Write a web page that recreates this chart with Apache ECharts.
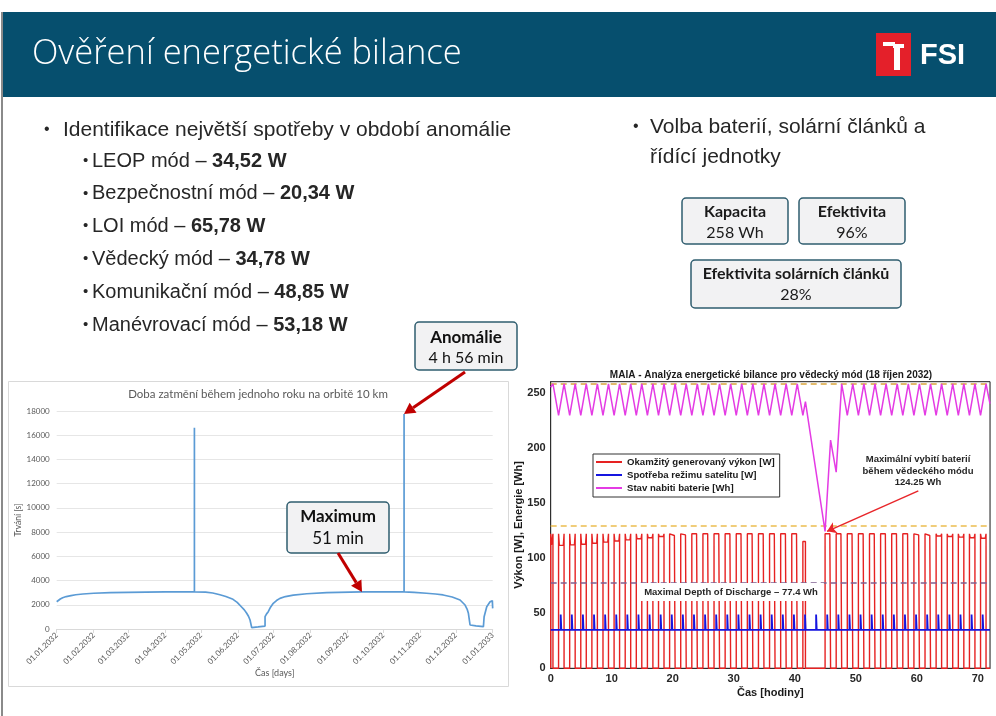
<!DOCTYPE html>
<html>
<head>
<meta charset="utf-8">
<script src="https://cdn.jsdelivr.net/npm/echarts@6/dist/echarts.min.js"></script>
<style>
  html, body { margin: 0; padding: 0; background: #fff; }
  #main { width: 996px; height: 716px; }
</style>
</head>
<body>
<div id="main"></div>
<script>
// --- slide texts ---
const modeNames = ['LEOP mód', 'Bezpečnostní mód', 'LOI mód', 'Vědecký mód', 'Komunikační mód', 'Manévrovací mód']
const modePowers = ['34,52 W', '20,34 W', '65,78 W', '34,78 W', '48,85 W', '53,18 W']
const boxTitles = ['Kapacita', 'Efektivita', 'Efektivita solárních článků']
const boxValues = ['258 Wh', '96%', '28%']

// --- left chart: eclipse duration over 2032 (day of year, seconds) ---
const monthTicks = [0, 31, 60, 91, 121, 152, 182, 213, 244, 274, 305, 335, 366]
const monthLabels = ['01.01.2032', '01.02.2032', '01.03.2032', '01.04.2032', '01.05.2032', '01.06.2032',
  '01.07.2032', '01.08.2032', '01.09.2032', '01.10.2032', '01.11.2032', '01.12.2032', '01.01.2033']
const eclipseDay = [0, 1, 3, 5, 8, 12, 16, 22, 31, 45, 60, 75, 91, 105, 115.6, 115.6, 115.6,
  125, 131, 137, 142, 148, 151.5, 155, 157.5, 159.5, 161, 162.3, 163.7, 169, 174.9, 174.9,
  176.2, 177.6, 179.5, 181.8, 184.5, 187.4, 192, 198.6, 210, 226.6, 256, 280, 291.6, 291.6, 291.6,
  300, 310.4, 318, 324.4, 332, 338.6, 342.8, 344.5, 345.6, 347, 352, 358.2, 358.8, 361, 363.8, 365.7, 366]
const eclipseSec = [2250, 2330, 2480, 2580, 2680, 2760, 2830, 2890, 2950, 3000, 3030, 3050, 3060, 3060, 3060, 16620, 3060,
  3040, 2970, 2830, 2680, 2450, 2200, 1840, 1580, 1300, 1050, 740, 110, 170, 245, 1015,
  1250, 1430, 1800, 2120, 2350, 2530, 2680, 2800, 2910, 3000, 3060, 3060, 3060, 17760, 3060,
  3030, 2950, 2890, 2810, 2640, 2395, 1980, 1650, 1300, 330, 260, 190, 1015, 1840, 2250, 2340, 1700]

// --- right chart: MAIA energy balance (hours) ---
// sunlit intervals: generated power rises at sunRise, drops to 0 at sunSet
const sunRise = [0, 1.29, 3.11, 4.93, 6.75, 8.57, 10.39, 12.21, 14.03, 15.85, 17.67, 19.49, 21.31, 23.13, 24.95,
  26.77, 28.59, 30.41, 32.23, 34.05, 35.87, 37.69, 39.51, 41.33, 44.97, 46.79, 48.61, 50.43, 52.25, 54.07,
  55.89, 57.71, 59.53, 61.35, 63.17, 64.99, 66.81, 68.63, 70.45]
const sunSet = [0.37, 2.19, 4.01, 5.83, 7.65, 9.47, 11.29, 13.11, 14.93, 16.75, 18.57, 20.39, 22.21, 24.03, 25.85,
  27.67, 29.49, 31.31, 33.13, 34.95, 36.77, 38.59, 40.41, 41.75, 45.87, 47.69, 49.51, 51.33, 53.15, 54.97,
  56.79, 58.61, 60.43, 62.25, 64.07, 65.89, 67.71, 69.53, 71.35]
const sunPeak = [122, 122, 122, 122, 122, 122, 122, 122, 122, 122, 122, 122, 122, 122, 122,
  122, 122, 122, 122, 122, 122, 122, 122, 115, 122, 122, 122, 122, 122, 122,
  122, 122, 122, 122, 122, 122, 122, 122, 122]
const sunMid = [112, 111.5, 112, 112.5, 113.5, 114.5, 115.5, 116.5, 117.5, 118.5, 119.5, 120.5, 121, 122, 122,
  122, 122, 122, 122, 122, 122, 122, 122, 115, 122, 122, 122, 122, 122, 122,
  122, 122, 121, 120.5, 120, 119.5, 119, 118.5, 118]
// satellite consumption: base load with short communication peaks
const baseLoad = 34.78
const commsLoad = 48.85
const commsLen = 0.1
const commsT = [1.64, 3.46, 5.28, 7.10, 8.92, 10.74, 12.56, 14.38, 16.20, 18.02, 19.84, 21.66, 23.48,
  25.30, 27.12, 28.94, 30.76, 32.58, 34.40, 36.22, 38.04, 39.86, 41.68, 43.50, 45.32, 47.14,
  48.96, 50.78, 52.60, 54.42, 56.24, 58.06, 59.88, 61.70, 63.52, 65.34, 67.16, 68.98, 70.80]
// battery state of charge
const batT = [0, 0.37, 1.29, 2.19, 3.11, 4.01, 4.93, 5.83, 6.75, 7.65, 8.57, 9.47, 10.39, 11.29, 12.21, 13.11,
  14.03, 14.93, 15.85, 16.75, 17.67, 18.57, 19.49, 20.39, 21.31, 22.21, 23.13, 24.03, 24.95, 25.85,
  26.77, 27.67, 28.59, 29.49, 30.41, 31.31, 32.23, 33.13, 34.05, 34.95, 35.87, 36.77, 37.69, 38.59,
  39.51, 40.41, 41.33, 41.75, 44.97, 45.87, 46.79, 47.69, 48.61, 49.51, 50.43, 51.33, 52.25, 53.15,
  54.07, 54.97, 55.89, 56.79, 57.71, 58.61, 59.53, 60.43, 61.35, 62.25, 63.17, 64.07, 64.99, 65.89,
  66.81, 67.71, 68.63, 69.53, 70.45, 71.35, 72]
const batV = [255, 258, 229.5, 258, 229.5, 258, 229.5, 258, 229.5, 258, 229.5, 258, 229.5, 258, 229.5, 258,
  229.5, 258, 229.5, 258, 229.5, 258, 229.5, 258, 229.5, 258, 229.5, 258, 229.5, 258,
  229.5, 258, 229.5, 258, 229.5, 258, 229.5, 258, 229.5, 258, 229.5, 258, 229.5, 258,
  229.5, 258, 229.5, 242, 124.25, 207, 178, 258, 229.5, 258, 229.5, 258, 229.5, 258,
  229.5, 258, 229.5, 258, 229.5, 258, 229.5, 258, 229.5, 258, 229.5, 258, 229.5, 258,
  229.5, 258, 229.5, 258, 229.5, 258, 240]
const capacity = 258
const halfCapacity = 129
const depthOfDischarge = 77.4
const minCharge = [45.3, 124.25]
const minChargeLabel = [60.25, 160.9]

const chart = echarts.init(document.getElementById('main'))

const SANS = '"Liberation Sans", Arial, sans-serif'
const CAL = 'Lato, "Open Sans", sans-serif'

function txt(x, y, str, size, o) {
  o = o || {}
  return {
    type: 'text', x: x, y: y, z: 100, rotation: o.rot || 0,
    style: {
      text: str, fontSize: size, fontFamily: o.family || SANS, fontWeight: o.weight || 'normal',
      fill: o.color || '#262626', align: o.align || 'left', verticalAlign: 'middle',
      textAlign: o.align || 'left', textVerticalAlign: 'middle', lineHeight: o.lh,
      backgroundColor: o.bg, padding: o.pad, rich: o.rich
    }
  }
}

function box(x, y, w, h) {
  return { type: 'rect', z: 90, shape: { x: x, y: y, width: w, height: h, r: 4 },
    style: { fill: '#f2f2f3', stroke: '#2f5d6f', lineWidth: 1.5 } }
}

function arrow(x1, y1, x2, y2, color, w, head) {
  const a = Math.atan2(y2 - y1, x2 - x1)
  const bx = x2 - head * Math.cos(a), by = y2 - head * Math.sin(a)
  const hw = head * 0.55
  return [
    { type: 'line', z: 100, shape: { x1: x1, y1: y1, x2: bx, y2: by }, style: { stroke: color, lineWidth: w } },
    { type: 'polygon', z: 100, shape: { points: [[x2, y2], [bx + hw * Math.sin(a), by - hw * Math.cos(a)], [bx - hw * Math.sin(a), by + hw * Math.cos(a)]] },
      style: { fill: color } }
  ]
}

// slide decoration
const graphics = [
  { type: 'rect', z: 1, shape: { x: 1, y: 12, width: 2, height: 704 }, style: { fill: '#8a8a8a' } },
  { type: 'rect', z: 1, shape: { x: 3, y: 12, width: 993, height: 85 }, style: { fill: '#064f6e' } },
  txt(32, 54, 'Ověření energetické bilance', 34.5, { family: '"Open Sans", sans-serif', weight: 300, color: '#ffffff' }),
  { type: 'rect', z: 5, shape: { x: 876, y: 33, width: 35, height: 43 }, style: { fill: '#e4202a' } },
  { type: 'rect', z: 6, shape: { x: 883, y: 42, width: 12, height: 4 }, style: { fill: '#ffffff' } },
  { type: 'rect', z: 6, shape: { x: 893, y: 44, width: 11, height: 4 }, style: { fill: '#ffffff' } },
  { type: 'rect', z: 6, shape: { x: 894, y: 44, width: 6, height: 26 }, style: { fill: '#ffffff' } },
  txt(920, 56, 'FSI', 29, { weight: 'bold', color: '#ffffff' }),

  txt(44, 130, '•', 16),
  txt(63, 130, 'Identifikace největší spotřeby v období anomálie', 21),
  txt(633, 127, '•', 16),
  txt(650, 127, 'Volba baterií, solární článků a', 21),
  txt(650, 157, 'řídící jednotky', 21)
]

const subY = [161, 193.5, 226, 259, 292, 325]
modeNames.forEach(function (n, i) {
  graphics.push(txt(83, subY[i], '•', 15))
  graphics.push(txt(92, subY[i], '{n|' + n + ' – }{b|' + modePowers[i] + '}', 20, {
    rich: {
      n: { fontSize: 20, fontFamily: SANS, fill: '#262626' },
      b: { fontSize: 20, fontFamily: SANS, fontWeight: 'bold', fill: '#262626' }
    }
  }))
})

// info boxes
const boxRects = [[682, 198, 106, 46], [799, 198, 106, 46], [691, 260, 210, 48]]
boxRects.forEach(function (r, i) {
  graphics.push(box(r[0], r[1], r[2], r[3]))
  graphics.push(txt(r[0] + r[2] / 2, r[1] + 13.5, boxTitles[i], 16, { family: CAL, weight: 'bold', align: 'center', color: '#1a1a1a' }))
  graphics.push(txt(r[0] + r[2] / 2, r[1] + 35, boxValues[i], 16, { family: CAL, align: 'center', color: '#1a1a1a' }))
})

// anomaly + maximum callouts
graphics.push(box(415, 322, 102, 48))
graphics.push(txt(466, 338, 'Anomálie', 17, { family: CAL, weight: 'bold', align: 'center', color: '#111' }))
graphics.push(txt(466, 358, '4 h 56 min', 16, { family: CAL, align: 'center', color: '#111' }))
graphics.push.apply(graphics, arrow(465, 372, 404, 414, '#c00000', 3, 11))
graphics.push(box(287, 502, 102, 51))
graphics.push(txt(338, 517, 'Maximum', 17, { family: CAL, weight: 'bold', align: 'center', color: '#111' }))
graphics.push(txt(338, 539, '51 min', 17, { family: CAL, align: 'center', color: '#111' }))
graphics.push.apply(graphics, arrow(338, 553, 362, 592, '#c00000', 3, 11))

// left chart frame + title
graphics.push({ type: 'rect', z: 2, shape: { x: 8.5, y: 381.5, width: 500, height: 305 }, style: { fill: 'none', stroke: '#d9d9d9', lineWidth: 1 } })
graphics.push(txt(258, 394, 'Doba zatmění během jednoho roku na orbitě 10 km', 11.5, { family: CAL, align: 'center', color: '#595959' }))

// right chart title + notes
graphics.push(txt(771, 375, 'MAIA - Analýza energetické bilance pro vědecký mód (18 říjen 2032)', 10, { weight: 'bold', align: 'center', color: '#1a1a1a' }))
graphics.push(txt(519, 525, 'Výkon [W], Energie [Wh]', 11, { weight: 'bold', align: 'center', color: '#1a1a1a', rot: Math.PI / 2 }))
graphics.push(txt(918, 471, 'Maximální vybití baterií\nběhem vědeckého módu\n124.25 Wh', 9.5, { weight: 'bold', align: 'center', color: '#262626', lh: 11.5 }))
graphics.push(txt(731, 592, 'Maximal Depth of Discharge – 77.4 Wh', 9.5, { weight: 'bold', align: 'center', color: '#262626', bg: '#ffffff', pad: [4, 6] }))

// build line data from the read values
const eclipseData = eclipseDay.map(function (d, i) { return [d, eclipseSec[i]] })
const powerData = []
sunRise.forEach(function (s, i) {
  const e = sunSet[i]
  powerData.push([s, 0], [s, sunPeak[i]], [s + 0.12, sunMid[i]], [e - 0.12, sunMid[i]], [e, sunPeak[i]], [e, 0])
})
powerData.push([72, 0])
const loadData = [[0, baseLoad]]
commsT.forEach(function (t) {
  loadData.push([t, baseLoad], [t, commsLoad], [t + commsLen, commsLoad], [t + commsLen, baseLoad])
})
loadData.push([72, baseLoad])
const batData = batT.map(function (t, i) { return [t, batV[i]] })

const bold11 = { fontSize: 11, fontWeight: 'bold', color: '#262626', fontFamily: SANS }

chart.setOption({
  animation: false,
  backgroundColor: '#ffffff',
  graphic: graphics,
  legend: {
    data: ['Okamžitý generovaný výkon [W]', 'Spotřeba režimu satelitu [W]', 'Stav nabiti baterie [Wh]'],
    orient: 'vertical', left: 593, top: 454, itemGap: 1, itemWidth: 26, itemHeight: 2, icon: 'rect',
    padding: [2, 5, 3, 3], borderColor: '#333', borderWidth: 1, backgroundColor: '#fff',
    textStyle: { fontSize: 9.6, fontWeight: 'bold', color: '#1a1a1a', fontFamily: SANS, lineHeight: 12 }
  },
  grid: [
    { left: 56.7, right: 503.3, top: 411, bottom: 87 },
    { left: 550.7, right: 6, top: 381.7, bottom: 47.7, show: true, borderColor: '#222', borderWidth: 1, backgroundColor: '#fff', z: 3 }
  ],
  xAxis: [
    {
      gridIndex: 0, type: 'value', min: 0, max: 366,
      name: 'Čas [days]', nameLocation: 'middle', nameGap: 40,
      nameTextStyle: { fontSize: 9, color: '#595959', fontFamily: CAL },
      axisLine: { lineStyle: { color: '#d9d9d9' } },
      axisTick: { show: true, customValues: monthTicks, length: 4, lineStyle: { color: '#d9d9d9' } },
      axisLabel: {
        customValues: monthTicks, rotate: 45, fontSize: 8, color: '#595959', fontFamily: CAL, margin: 5,
        formatter: function (v) { const i = monthTicks.indexOf(v); return i >= 0 ? monthLabels[i] : '' }
      },
      splitLine: { show: false }
    },
    {
      gridIndex: 1, type: 'value', min: 0, max: 72, interval: 10,
      name: 'Čas [hodiny]', nameLocation: 'middle', nameGap: 19,
      nameTextStyle: { fontSize: 11, fontWeight: 'bold', color: '#1a1a1a', fontFamily: SANS },
      axisLine: { lineStyle: { color: '#222' } },
      axisTick: { inside: true, length: 4, lineStyle: { color: '#222' } },
      axisLabel: Object.assign({ margin: 5, showMaxLabel: false }, bold11),
      splitLine: { show: true, lineStyle: { color: '#e2e2e2' } }
    }
  ],
  yAxis: [
    {
      gridIndex: 0, type: 'value', min: 0, max: 18000, interval: 2000,
      name: 'Trvání [s]', nameLocation: 'middle', nameGap: 32,
      nameTextStyle: { fontSize: 8.5, color: '#595959', fontFamily: CAL },
      axisLine: { show: false }, axisTick: { show: false },
      axisLabel: { fontSize: 8, color: '#595959', fontFamily: CAL, margin: 7, formatter: function (v) { return String(v) } },
      splitLine: { lineStyle: { color: '#e6e6e6' } }
    },
    {
      gridIndex: 1, type: 'value', min: 0, max: 260, interval: 50,
      axisLine: { show: true, lineStyle: { color: '#222' } },
      axisTick: { inside: true, length: 4, lineStyle: { color: '#222' } },
      axisLabel: Object.assign({ margin: 5, showMaxLabel: false }, bold11),
      splitLine: { show: true, lineStyle: { color: '#e2e2e2' } }
    }
  ],
  series: [
    {
      name: 'Trvání', type: 'line', xAxisIndex: 0, yAxisIndex: 0, data: eclipseData,
      symbol: 'none', lineStyle: { color: '#5b9bd5', width: 1.7 }, itemStyle: { color: '#5b9bd5' }
    },
    {
      name: 'Okamžitý generovaný výkon [W]', type: 'line', xAxisIndex: 1, yAxisIndex: 1, data: powerData,
      symbol: 'none', lineStyle: { color: '#e62222', width: 1.4 }, itemStyle: { color: '#e62222' }, z: 4,
      markLine: {
        silent: true, symbol: 'none', label: { show: false },
        data: [
          { yAxis: capacity, lineStyle: { color: '#d9a43c', type: [6, 4], width: 1.5 } },
          { yAxis: halfCapacity, lineStyle: { color: '#ebbd4f', type: [6, 4], width: 1.5 } },
          { yAxis: depthOfDischarge, lineStyle: { color: '#7f6090', type: [6, 4], width: 1.5 } }
        ]
      }
    },
    {
      name: 'Spotřeba režimu satelitu [W]', type: 'line', xAxisIndex: 1, yAxisIndex: 1, data: loadData,
      symbol: 'none', lineStyle: { color: '#1515e0', width: 1.8 }, itemStyle: { color: '#1515e0' }, z: 5
    },
    {
      name: 'Stav nabiti baterie [Wh]', type: 'line', xAxisIndex: 1, yAxisIndex: 1, data: batData,
      symbol: 'none', lineStyle: { color: '#e43be4', width: 1.5 }, itemStyle: { color: '#e43be4' }, z: 6,
      markLine: {
        silent: true, symbol: ['none', 'arrow'], symbolSize: 9, label: { show: false },
        lineStyle: { color: '#e8262a', width: 1.5, type: 'solid' },
        data: [[{ coord: minChargeLabel }, { coord: minCharge }]]
      }
    }
  ]
})
</script>
</body>
</html>
